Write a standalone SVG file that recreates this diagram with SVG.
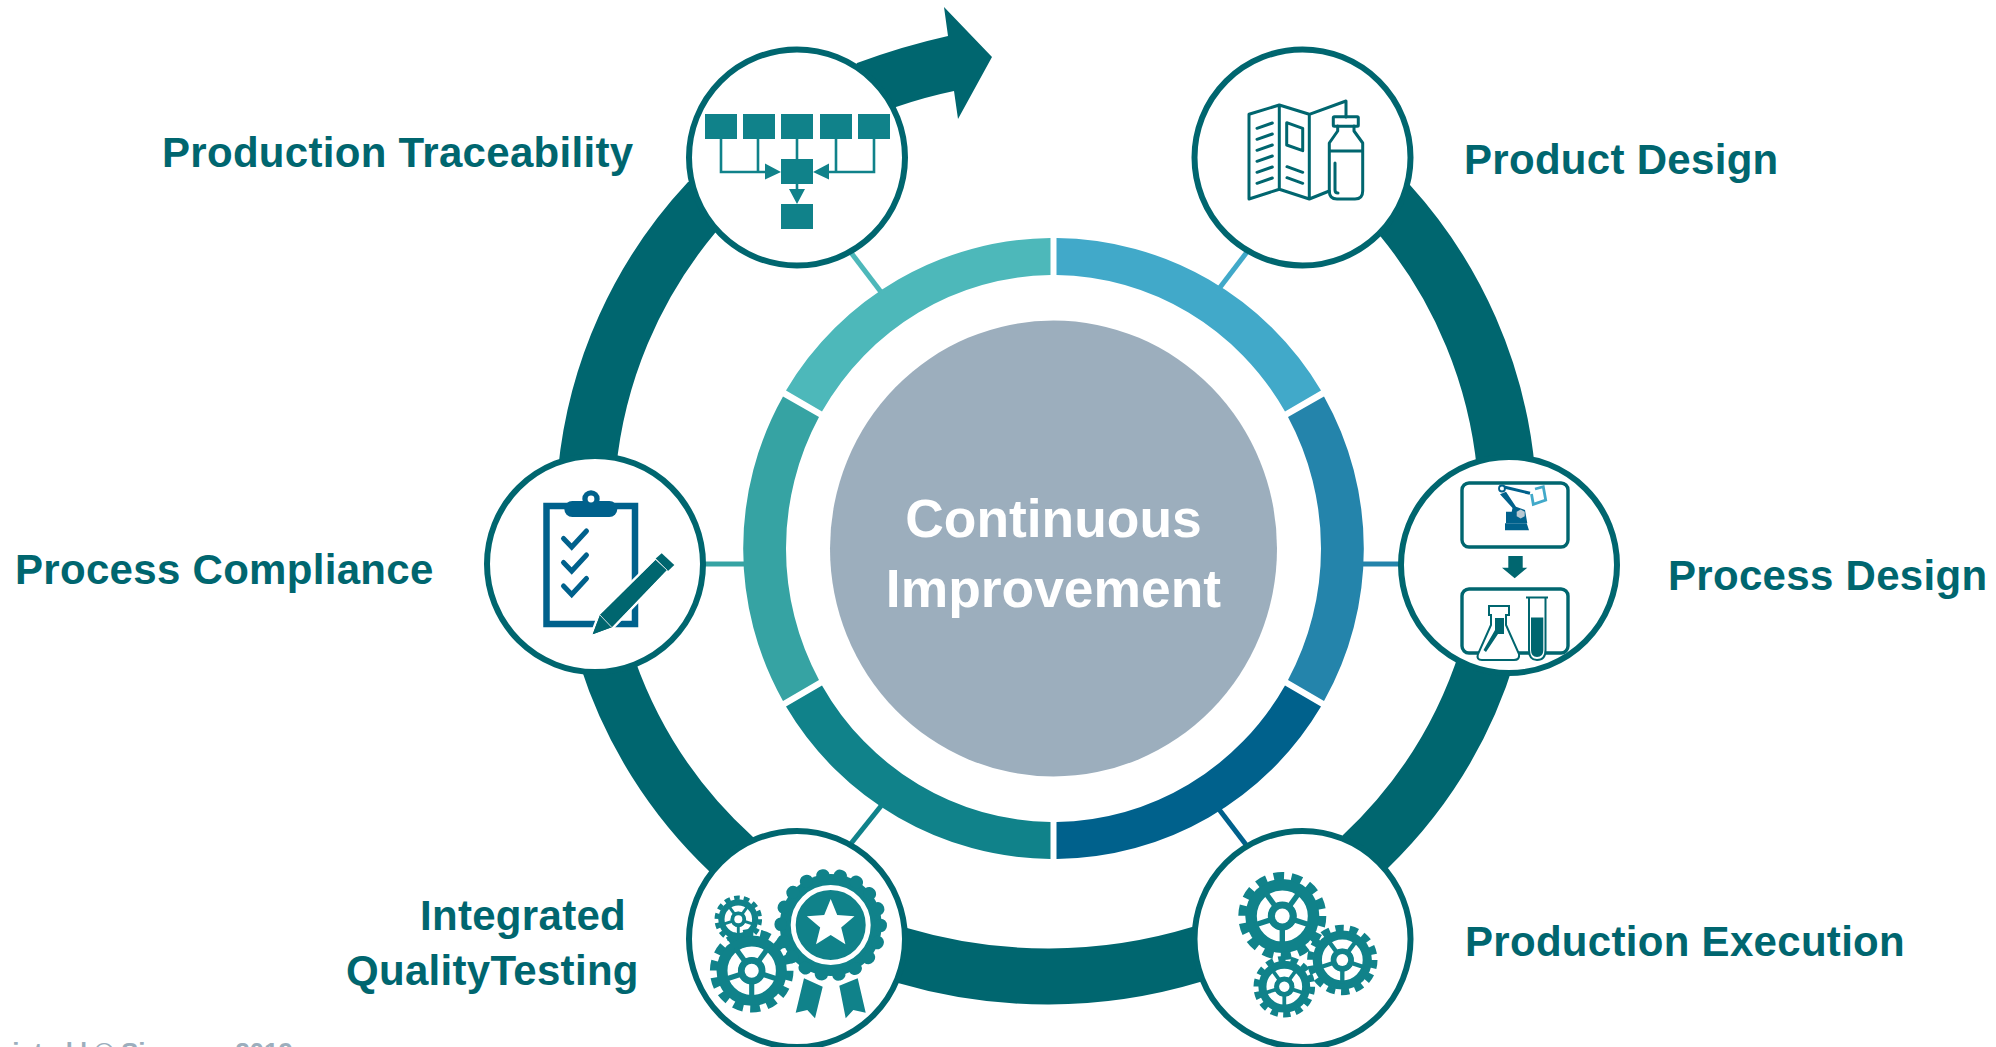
<svg xmlns="http://www.w3.org/2000/svg" width="1996" height="1047" viewBox="0 0 1996 1047">
<style>
text{font-family:"Liberation Sans",Arial,sans-serif;font-weight:bold}
.lbl{font-size:42px;fill:#00666f;letter-spacing:.3px}
.ctr{font-size:53.4px;fill:#fff;text-anchor:middle}
.ring{fill:#00666f}
.node{fill:#fff;stroke:#00666f;stroke-width:6}
.tl{fill:#10828a}
.tls{stroke:#10828a;stroke-width:2.6;fill:none}
.dk{fill:none;stroke:#00666f;stroke-width:3;stroke-linecap:round;stroke-linejoin:round}
.blue{fill:#00618c}
.chk{fill:none;stroke:#00618c;stroke-width:5;stroke-linecap:round;stroke-linejoin:miter}
</style>
<defs>
<g id="gear">
<circle r="37" fill="#10828a"/>
<circle r="40" fill="none" stroke="#10828a" stroke-width="8" stroke-dasharray="10.5 7.45"/>
<circle r="20" fill="none" stroke="#fff" stroke-width="11"/>
<g stroke="#10828a" stroke-width="5.4">
<line x1="0" y1="0" x2="0" y2="29"/>
<line x1="0" y1="0" x2="27.6" y2="9"/>
<line x1="0" y1="0" x2="17" y2="-23.5"/>
<line x1="0" y1="0" x2="-17" y2="-23.5"/>
<line x1="0" y1="0" x2="-27.6" y2="9"/>
</g>
<circle r="14" fill="#10828a"/>
<circle r="7.4" fill="#fff"/>
</g>
</defs>
<g id="connectors">
<g id="ring-arcs" class="ring">
<path d="M1302 157L1410 185A490 490 0 0 1 1535 470L1477 470A435 435 0 0 0 1381 237Z"/>
<path d="M1515 660A490 490 0 0 1 1388 868L1302 939L1343 835A435 435 0 0 0 1460 650Z"/>
<path d="M1302 939L1200 982A529 529 0 0 1 898 983L797 939L907 928A494 494 0 0 0 1192 927Z"/>
<path d="M797 939L710 872A490 490 0 0 1 580 665L635 660A435 435 0 0 0 753 837Z"/>
<path d="M558 470A490 490 0 0 1 688 182L797 158L715 233A435 435 0 0 0 616 470Z"/>
<path d="M797 158L857 63Q903 46 948 36L944 7L992 57L958 119L954 91Q925 97 896 107Z"/>
</g>
<g id="spokes" stroke-width="5">
<line x1="1218" y1="290" x2="1247" y2="252" stroke="#41a9c9"/>
<line x1="1360" y1="564" x2="1402" y2="564" stroke="#2484ab"/>
<line x1="1218" y1="808" x2="1247" y2="846" stroke="#00618c"/>
<line x1="881" y1="806" x2="849" y2="846" stroke="#10828a"/>
<line x1="704" y1="564" x2="746" y2="564" stroke="#36a3a3"/>
<line x1="881" y1="292" x2="849" y2="250" stroke="#4db8ba"/>
</g>
</g>
<g id="segments">
<path fill="#41a9c9" d="M1056.5 238A311 311 0 0 1 1321 390.4L1285 411.6A268 273.5 0 0 0 1056.5 275Z"/>
<path fill="#2484ab" d="M1324 396.5A311 311 0 0 1 1324 701L1288 680A268 273.5 0 0 0 1288 417Z"/>
<path fill="#00618c" d="M1321 706.6A311 311 0 0 1 1056.5 859L1056.5 822A268 273.5 0 0 0 1285 685.4Z"/>
<path fill="#10828a" d="M786 706.6A311 311 0 0 0 1050.5 859L1050.5 822A268 273.5 0 0 1 822 685.4Z"/>
<path fill="#36a3a3" d="M783 396.5A311 311 0 0 0 783 701L819 680A268 273.5 0 0 1 819 417Z"/>
<path fill="#4db8ba" d="M1050.5 238A311 311 0 0 0 786 390.4L822 411.6A268 273.5 0 0 1 1050.5 275Z"/>
</g>
<g id="center">
<ellipse cx="1053.5" cy="548.5" rx="223.5" ry="228" fill="#9caebd"/>
<text class="ctr" x="1053.5" y="537">Continuous</text>
<text class="ctr" x="1053.5" y="607">Improvement</text>
</g>
<g id="production-traceability">
<circle class="node" cx="797" cy="157.5" r="108"/>
<g class="tl">
<rect x="705" y="114" width="32" height="25"/><rect x="743" y="114" width="32" height="25"/><rect x="781" y="114" width="32" height="25"/><rect x="820" y="114" width="32" height="25"/><rect x="858" y="114" width="32" height="25"/>
<rect x="781" y="159" width="32" height="25"/><rect x="781" y="204" width="32" height="25"/>
<path d="M765 163.5L781 172L765 179.5ZM829 163.5L813 172L829 179.5ZM789 189H805L797 204Z"/>
</g>
<path class="tls" d="M721 139V172H770M758 139V172M797 139V159M836 139V172H825M874 139V172H836M797 184V190"/>
<text class="lbl" x="162" y="167">Production Traceability</text>
</g>
<g id="product-design">
<circle class="node" cx="1302.5" cy="157.5" r="108"/>
<path class="dk" d="M1346 117V101L1309.3 114.3L1279.3 105L1249 114.3V199L1279.3 189.3L1309.3 199L1329.3 191M1279.3 105V189.3M1309.3 114.3V199"/>
<path class="dk" d="M1257 128.3L1272.3 123M1257 139.3L1272.3 134M1257 150.3L1272.3 145M1257 161.3L1272.3 156M1257 172.3L1272.3 167M1257 183.3L1272.3 178M1287 166.7L1302.7 172.3M1287 177.7L1302.7 183.3"/>
<path class="dk" d="M1286.7 122.7L1302.7 128.3V150.7L1286.7 145Z"/>
<rect class="dk" x="1333.3" y="116.7" width="25" height="9.5" rx="1"/>
<path class="dk" d="M1337.7 126V131L1329.3 143V191Q1329.3 199 1337 199H1355Q1362.7 199 1362.7 191V143L1354 131V126M1329.3 151H1362.7M1335 163V190Q1335 193 1338 193"/>
<text class="lbl" x="1464" y="174">Product Design</text>
</g>
<g id="process-design">
<circle class="node" cx="1509" cy="565" r="108"/>
<rect x="1462" y="483" width="106" height="64" rx="7" fill="#fff" stroke="#00666f" stroke-width="3.4"/>
<rect x="1462" y="589" width="106" height="64" rx="7" fill="none" stroke="#00666f" stroke-width="3.4"/>
<g class="blue">
<path d="M1500 494.3L1506 491.7L1516 506.7L1525 510L1527.3 523.3H1506V511.7H1511.7L1512.5 508Z"/>
<path d="M1505 523.3H1526.7L1529 530.3H1505Z"/>
</g>
<path d="M1520.7 509.5l4 2.2v4.6l-4 2.2-4-2.2v-4.6z" fill="#b8c8d2"/>
<circle cx="1502" cy="488.5" r="3" fill="#fff" stroke="#00618c" stroke-width="1.8"/>
<path d="M1504 487L1530 493.3" stroke="#00618c" stroke-width="3" fill="none"/>
<path d="M1535 489L1543.3 486.7L1545.7 500L1533.3 504.3L1531.5 494" fill="none" stroke="#41a9c9" stroke-width="2.8"/>
<path d="M1508.3 556H1522.7V567.7H1527.3L1514.7 578.3L1502 567.7H1508.3Z" fill="#00666f"/>
<path d="M1489 606H1509V615H1506V625L1519 654Q1520 660 1514 660H1482Q1476 660 1478 654L1491 625V615H1489Z" fill="#fff" stroke="#00666f" stroke-width="2"/>
<path d="M1495 618H1504V634H1498L1486 652L1483.5 650L1495 630Z" fill="#00666f"/>
<path d="M1526 597.5H1548M1529 597.5V650Q1529 660 1537 660Q1545.5 660 1545.5 650V597.5" fill="#fff" stroke="#00666f" stroke-width="2"/>
<path d="M1531 617.5H1543.3V650Q1543.3 657 1537 657Q1531 657 1531 650Z" fill="#00666f"/>
<text class="lbl" x="1668" y="590">Process Design</text>
</g>
<g id="production-execution">
<circle class="node" cx="1302.5" cy="939" r="108"/>
<use href="#gear" transform="translate(1342.3 960) scale(.8)"/>
<use href="#gear" transform="translate(1284.3 986.7) scale(.7)"/>
<use href="#gear" transform="translate(1282.3 916)"/>
<text class="lbl" x="1465" y="956">Production Execution</text>
</g>
<g id="integrated-quality-testing">
<circle class="node" cx="797" cy="939" r="108"/>
<use href="#gear" transform="translate(738.3 919.3) scale(.54)"/>
<use href="#gear" transform="translate(751.7 970.7) scale(.95)"/>
<circle cx="830.7" cy="925" r="51" fill="#10828a"/>
<circle cx="830.7" cy="925" r="50" fill="none" stroke="#10828a" stroke-width="12.5" stroke-linecap="round" stroke-dasharray="1 16.45"/>
<circle cx="830.7" cy="925" r="37.5" fill="none" stroke="#fff" stroke-width="5"/>
<polygon fill="#fff" points="830.7,899 837.2,915.1 854.5,916.3 841.2,927.4 845.4,944.2 830.7,935 816,944.2 820.2,927.4 806.9,916.3 824.2,915.1"/>
<polygon class="tl" points="804,978.3 822.7,986.7 815,1018.3 807.3,1010 795.7,1012.7"/>
<polygon class="tl" points="839.3,985.7 857.7,978.3 865.7,1012.7 853.3,1010 845.7,1018.3"/>
<text class="lbl" x="420" y="930">Integrated</text>
<text class="lbl" x="346" y="985">QualityTesting</text>
</g>
<g id="process-compliance">
<circle class="node" cx="595" cy="564" r="108"/>
<rect x="546.5" y="506" width="88.5" height="118" fill="#fff" stroke="#00618c" stroke-width="6.5"/>
<rect x="564.3" y="501" width="53" height="16" rx="8" class="blue"/>
<circle cx="591" cy="499" r="8.7" class="blue"/>
<circle cx="591" cy="499" r="3.4" fill="#fff"/>
<path class="chk" d="M563.5 538.5L571.7 547L586.5 531M563.5 562.5L571.7 571L586.5 555M563.5 586L571.7 594.5L586.5 578.5"/>
<path d="M592.7 634.3L600 615L655.7 560L666.7 570L611.7 627.3Z" fill="#00666f" stroke="#fff" stroke-width="5" paint-order="stroke"/>
<path d="M592.7 634.3L600 615L655.7 560L666.7 570L611.7 627.3Z" fill="#00666f"/>
<path d="M655.7 558.5L661.7 553.3L674.3 565L668 571Z" fill="#00666f"/>
<path d="M600 615L611.7 627.3M655.7 559.5L667.5 570.5" stroke="#cfe0e2" stroke-width="1"/>
<text class="lbl" x="15" y="584">Process Compliance</text>
</g>
<text id="footer" x="293" y="1061" font-size="26" fill="#9caebd" text-anchor="end">Unrestricted | © Siemens 2019</text>
</svg>
